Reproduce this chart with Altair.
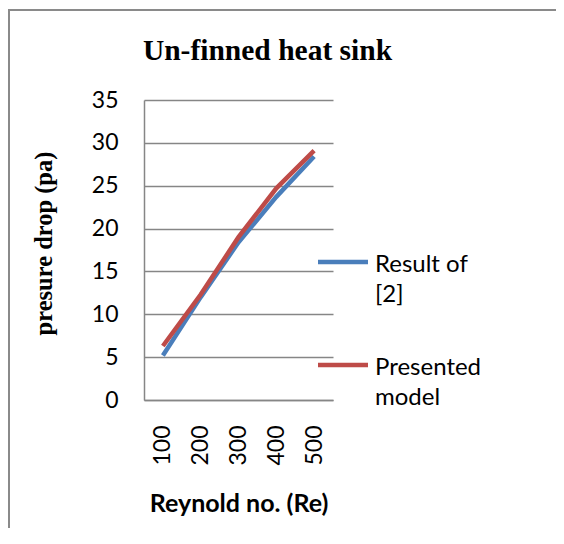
import altair as alt
import pandas as pd

# ---- data ----
reynolds = [100, 200, 300, 400, 500]
result_of_2 = [5.2, 12.0, 18.4, 23.7, 28.4]
presented_model = [6.3, 12.3, 19.0, 24.7, 29.1]
series_names = ["Result of [2]", "Presented model"]
series_colors = ["#4A7EBB", "#BE4B48"]
legend_lines = [["Result of", "[2]"], ["Presented", "model"]]
y_ticks = [0, 5, 10, 15, 20, 25, 30, 35]
chart_title = ["Un-finned heat sink"]

df = pd.DataFrame({
    "Re": reynolds + reynolds,
    "dp": result_of_2 + presented_model,
    "series": [series_names[0]] * len(reynolds) + [series_names[1]] * len(reynolds),
})

GRID = "#868686"
color_scale = alt.Scale(domain=series_names, range=series_colors)

x_enc = alt.X(
    "Re:O",
    scale=alt.Scale(type="point", padding=0.5),
    axis=alt.Axis(
        title="Reynold no. (Re)", labelAngle=-90, labelPadding=25, ticks=False,
        grid=False, domainColor=GRID, domainWidth=1.5, labelFont="Lato", labelFontSize=23,
        labelColor="black", titleFont="Lato", titleFontSize=25, titleFontWeight="bold",
        titleColor="black", titlePadding=26,
    ),
)
y_enc = alt.Y(
    "dp:Q",
    scale=alt.Scale(domain=[0, 35]),
    axis=alt.Axis(
        values=y_ticks, title="presure drop (pa)", grid=True, gridColor=GRID, gridWidth=1.5,
        ticks=False, tickSize=0, labelPadding=26, domainColor=GRID, domainWidth=1.5,
        labelFont="Lato", labelFontSize=23, labelColor="black",
        titleFont="Liberation Serif", titleFontSize=24.5, titleFontWeight="bold",
        titleColor="black", titleX=-100, titleY=143, titleBaseline="middle",
    ),
)

layers = []
for name in series_names:
    layers.append(
        alt.Chart(df).transform_filter(alt.datum.series == name)
        .mark_line(strokeWidth=4.5)
        .encode(x=x_enc, y=y_enc,
                color=alt.Color("series:N", scale=color_scale, legend=None))
    )

leg_df = pd.DataFrame({"series": series_names, "lines": legend_lines})
for i, name in enumerate(series_names):
    base = alt.Chart(leg_df).transform_filter(alt.datum.series == name)
    layers.append(
        base.mark_rule(strokeWidth=4.5).encode(
            x=alt.value(174), x2=alt.value(224), y=alt.value(162 + i * 103),
            color=alt.Color("series:N", scale=color_scale, legend=None),
        )
    )
    layers.append(
        base.mark_text(align="left", baseline="alphabetic", lineHeight=30,
                       font="Lato", fontSize=24, color="black").encode(
            x=alt.value(231), y=alt.value(172 + i * 103), text="lines:N",
        )
    )

title_layer = alt.Chart(pd.DataFrame({"t": chart_title})).mark_text(
    align="center", baseline="alphabetic", font="Liberation Serif", fontSize=29.5,
    fontWeight="bold", color="black",
).encode(x=alt.value(123.5), y=alt.value(-40), text="t:N")
layers.append(title_layer)

# outer chart frame (only its top and left edges fall inside the window)
frame_data = alt.Data(values=[{"f": 1}])
layers.append(
    alt.Chart(frame_data).mark_rect(fill="#8a8a8a", strokeWidth=0).encode(
        x=alt.value(-136), x2=alt.value(420), y=alt.value(-91), y2=alt.value(-89))
)
layers.append(
    alt.Chart(frame_data).mark_rect(fill="#8a8a8a", strokeWidth=0).encode(
        x=alt.value(-136), x2=alt.value(-134), y=alt.value(-91), y2=alt.value(440))
)

chart = alt.layer(*layers).properties(
    width=189,
    height=300,
    autosize=alt.AutoSizeParams(type="none"),
    padding={"left": 136, "top": 92, "right": 223, "bottom": 128},
    background="white",
).configure_view(stroke=None)

chart.save("out.html", embed_options={"renderer": "svg", "actions": False})
